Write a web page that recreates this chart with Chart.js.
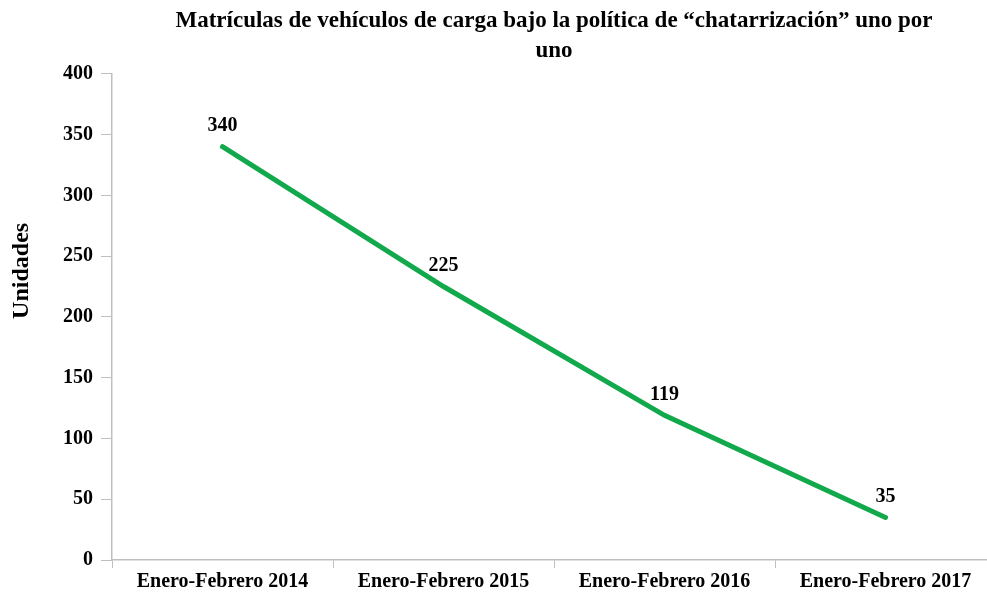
<!DOCTYPE html>
<html>
<head>
<meta charset="utf-8">
<script src="https://cdn.jsdelivr.net/npm/chart.js@4/dist/chart.umd.min.js"></script>
<style>
  html, body { margin: 0; padding: 0; background: #fff; overflow: hidden; }
  #wrap { width: 1000px; height: 596px; }
</style>
</head>
<body>
<div id="wrap"><canvas id="ChartMatriculas"></canvas></div>
<script>
const periodos = ['Enero-Febrero 2014', 'Enero-Febrero 2015', 'Enero-Febrero 2016', 'Enero-Febrero 2017'];
const unidades = [340, 225, 119, 35];
const tituloLineas = ['Matrículas de vehículos de carga bajo la política de “chatarrización” uno por', 'uno'];
const tituloEjeY = 'Unidades';

const serif = "'Liberation Serif', 'DejaVu Serif', serif";
const axisGray = '#bfbfbf';

// etiquetas de valor encima de cada punto + título del eje Y (algo por encima del centro, como en el original)
const valueLabels = {
    id: 'valueLabels',
    afterDatasetsDraw(chart) {
        const ctx = chart.ctx;
        const meta = chart.getDatasetMeta(0);
        ctx.save();
        ctx.font = "bold 20px " + serif;
        ctx.fillStyle = '#000';
        ctx.textAlign = 'center';
        ctx.textBaseline = 'middle';
        meta.data.forEach((pt, i) => {
            ctx.fillText(chart.data.datasets[0].data[i], pt.x, pt.y - 21);
        });

        const area = chart.chartArea;
        ctx.translate(22, (area.top + area.bottom) / 2 - 46);
        ctx.rotate(-Math.PI / 2);
        ctx.font = "bold 24px " + serif;
        ctx.fillText(tituloEjeY, 0, 0);
        ctx.restore();
    }
};

new Chart(document.getElementById("ChartMatriculas"), {
    type: 'line',
    data: {
        labels: periodos,
        datasets: [{
            data: unidades,
            borderColor: '#12a84c',
            borderWidth: 5,
            borderCapStyle: 'round',
            tension: 0,
            pointRadius: 0,
            fill: false
        }]
    },
    options: {
        responsive: true,
        maintainAspectRatio: false,
        animation: false,
        layout: { padding: { right: 4, bottom: 0 } },
        plugins: {
            legend: { display: false },
            tooltip: { enabled: false },
            title: {
                display: true,
                text: tituloLineas,
                fullSize: false,
                color: '#000',
                font: { family: serif, size: 23, weight: 'bold', lineHeight: 1.3 },
                padding: { top: 6, bottom: 8 }
            }
        },
        scales: {
            x: {
                offset: true,
                grid: {
                    offset: true,
                    drawOnChartArea: false,
                    tickLength: 8,
                    color: axisGray
                },
                border: { color: axisGray, width: 1.5 },
                ticks: {
                    color: '#000',
                    padding: 2,
                    maxRotation: 0,
                    font: { family: serif, size: 20, weight: 'bold' }
                }
            },
            y: {
                min: 0,
                max: 400,
                afterFit: s => { s.width = 112; },
                grid: {
                    drawOnChartArea: false,
                    tickLength: 11,
                    color: axisGray
                },
                border: { color: axisGray, width: 1.5 },
                ticks: {
                    stepSize: 50,
                    color: '#000',
                    padding: 8,
                    font: { family: serif, size: 20, weight: 'bold' }
                }
            }
        }
    },
    plugins: [valueLabels]
});
</script>
</body>
</html>
